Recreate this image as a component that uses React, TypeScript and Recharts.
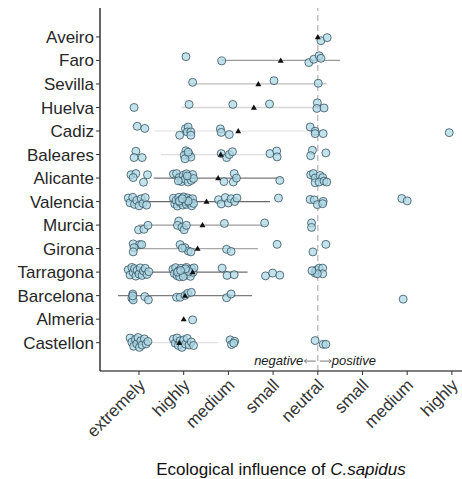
import { Label, ReferenceLine, Scatter, ScatterChart, XAxis, YAxis } from 'recharts';

const regions = [
	'Aveiro', 'Faro', 'Sevilla', 'Huelva', 'Cadiz', 'Baleares', 'Alicante',
	'Valencia', 'Murcia', 'Girona', 'Tarragona', 'Barcelona', 'Almeria', 'Castellon',
];
const influenceLabels = ['extremely', 'highly', 'medium', 'small', 'neutral', 'small', 'medium', 'highly'];
const influenceTicks = [1, 2, 3, 4, 5, 6, 7, 8];

// mean score and sd per region (the triangles and the horizontal bars)
const meanScore = [5.0, 4.17, 3.67, 3.57, 3.22, 2.83, 2.77, 2.51, 2.42, 2.31, 2.2, 2.03, 2.0, 1.9];
const sdScore = [0, 1.33, 1.53, 1.62, 1.88, 1.34, 1.44, 1.42, 1.43, 1.35, 1.23, 1.5, 0, 0.87];
const barShade = [
	'#bbbbbb', '#9a9a9a', '#bdbdbd', '#d6d6d6', '#ebebeb', '#dedede', '#7a7a7a',
	'#6a6a6a', '#9c9c9c', '#a8a8a8', '#6e6e6e', '#7e7e7e', '#cccccc', '#e3e3e3',
];

// jittered answers: [score + jitter, vertical jitter]
const aveiro = [[5.07, -0.16], [5.21, -0.03]];
const faro = [[2.05, 0.16], [2.85, -0.02], [4.8, -0.09], [4.91, 0.05], [5.03, 0.2], [5.07, 0.09]];
const sevilla = [[2.2, 0.07], [4.02, 0.14], [5.01, 0.03]];
const huelva = [[0.89, 0], [2.12, 0.13], [3.1, 0.13], [3.92, 0.15], [4.99, 0.2], [4.98, -0.04], [5.14, -0.02]];
const cadiz = [
	[0.96, 0.2], [1.13, 0.11],
	[1.91, -0.18], [2.04, 0.1], [2.1, 0.17], [2.08, -0.04], [2.16, -0.04], [2.16, -0.18],
	[2.82, 0.09], [2.84, -0.06], [3.02, -0.15],
	[4.83, 0.17], [4.94, -0.01], [4.94, -0.11], [5.12, -0.11],
	[7.94, -0.07],
];
const baleares = [
	[0.93, 0.14], [0.89, -0.13], [1.07, -0.13],
	[2.05, 0.16], [2.01, -0.03], [2.12, 0.01], [2.16, -0.11], [2.03, -0.18], [2.1, 0.1],
	[2.84, 0.04], [2.96, -0.13], [3.02, 0], [3.09, 0.12],
	[3.93, 0.04], [4.08, 0.15], [4.09, -0.1],
	[4.88, 0.18], [4.84, -0.05], [5.18, 0.07],
];
const alicante = [
	[0.82, 0.14], [0.93, 0.19], [0.87, 0.02], [1.19, 0.14], [1.1, -0.18],
	[1.77, 0.17], [1.84, 0.19], [1.9, 0.02], [1.95, -0.15], [1.99, 0.12], [2.03, -0.05], [2.06, 0.18],
	[2.1, -0.17], [2.13, 0.06], [2.17, -0.1], [2.2, 0.15], [2.22, -0.02], [1.88, -0.12], [2.08, 0.09],
	[2.9, -0.15], [3.13, 0.19], [3.11, -0.17], [3.18, 0],
	[4.15, -0.1],
	[4.84, 0.14], [4.9, 0.19], [4.94, 0], [5.05, 0.11], [5.11, 0.02], [4.94, -0.2], [5.03, -0.17], [5.14, -0.13], [5.2, -0.17],
];
const valencia = [
	[0.76, 0.15], [0.8, -0.05], [0.86, 0.18], [0.9, -0.12], [0.95, 0.05], [1.0, -0.18], [1.05, 0.12], [1.09, -0.08], [1.14, 0.17], [1.17, -0.15],
	[1.77, 0.14], [1.8, -0.1], [1.83, 0.05], [1.86, -0.19], [1.89, 0.18], [1.92, -0.04], [1.95, 0.1], [1.98, -0.15], [2.0, 0.2], [2.03, 0],
	[2.06, -0.12], [2.09, 0.15], [2.12, -0.05], [2.15, 0.08], [2.18, -0.18], [2.2, 0.12], [2.22, -0.08], [1.9, 0.02], [2.1, 0.02], [1.97, 0.12],
	[2.78, 0.08], [2.84, -0.1], [2.93, 0.17], [3.0, -0.06], [3.06, 0.12], [3.14, 0], [3.19, 0.15],
	[4.12, 0.15],
	[4.83, 0.09], [4.92, 0.07], [4.99, -0.13], [5.12, 0.01], [5.11, -0.09],
	[6.88, 0.13], [7.0, 0.03],
];
const murcia = [
	[0.99, -0.2], [1.11, -0.18], [1.2, -0.01],
	[1.89, 0.17], [1.86, -0.01], [1.96, -0.09], [2.01, -0.2], [2.06, -0.01],
	[2.91, 0.07],
	[3.81, 0.09],
	[4.86, 0.09], [4.86, -0.1],
];
const girona = [
	[0.87, 0.2], [1.01, 0.17], [1.06, 0.17], [0.89, 0.04], [0.87, -0.14],
	[1.92, 0.17], [2.03, 0.04], [2.1, -0.1], [2.16, -0.14], [1.97, 0.02],
	[2.96, -0.03], [3.06, -0.12],
	[4.09, 0.18],
	[4.89, -0.14], [5.18, 0.18],
];
const tarragona = [
	[0.76, 0.1], [0.8, -0.12], [0.84, 0.2], [0.87, -0.02], [0.9, 0.15], [0.93, -0.17], [0.96, 0.08],
	[1.0, -0.08], [1.03, 0.18], [1.07, -0.14], [1.1, 0.05], [1.14, 0.16], [1.18, -0.1], [1.22, 0.02],
	[1.76, 0.12], [1.79, -0.06], [1.82, 0.19], [1.85, -0.15], [1.88, 0.05], [1.91, -0.2], [1.94, 0.16], [1.97, -0.03],
	[2.0, 0.1], [2.03, -0.13], [2.06, 0.2], [2.09, -0.07], [2.12, 0.08], [2.15, -0.18], [2.18, 0.14], [2.21, -0.01],
	[2.23, 0.18], [1.86, 0], [1.99, -0.19], [2.11, 0.03], [2.04, 0.14], [1.93, 0.07],
	[2.86, 0.17], [2.97, -0.14], [3.13, -0.11],
	[3.83, -0.16], [3.99, -0.04], [4.15, -0.13],
	[4.94, -0.04], [4.96, 0.08], [5.03, 0.17], [5.11, 0.17], [5.11, -0.07], [4.99, -0.07], [4.87, 0.06],
];
const barcelona = [
	[0.86, 0.07], [0.84, -0.11], [0.87, -0.18], [1.13, -0.04], [1.21, -0.18], [0.86, -0.01],
	[1.84, -0.07], [1.92, -0.07], [2.03, 0.01], [2.09, 0.1], [2.17, 0.14],
	[2.96, -0.09], [3.06, 0.07],
	[6.91, -0.15],
];
const almeria = [[2.2, -0.03]];
const castellon = [
	[0.8, 0.2], [0.84, 0.02], [0.88, -0.15], [0.92, 0.14], [0.95, -0.05], [0.98, 0.22],
	[1.01, -0.2], [1.04, 0.08], [1.07, -0.1], [1.12, 0.16], [1.16, -0.05], [1.2, 0.05],
	[1.77, 0.15], [1.81, -0.02], [1.85, 0.2], [1.88, -0.12], [1.92, 0.08], [1.96, -0.2],
	[2.0, 0.12], [2.04, -0.06], [2.08, 0.18], [2.12, -0.1], [2.17, 0.03], [2.22, -0.12],
	[3.04, 0.12], [3.14, 0.06], [3.07, -0.08], [3.12, -0.02],
	[4.94, 0.09], [5.12, -0.07], [5.18, -0.07],
];

const pointsByRegion = [
	aveiro, faro, sevilla, huelva, cadiz, baleares, alicante,
	valencia, murcia, girona, tarragona, barcelona, almeria, castellon,
];

const FONT = '"Liberation Sans", Arial, Helvetica, sans-serif';

const rowOf = (i: number) => regions.length - i;
const regionTicks = regions.map((_, i) => rowOf(i));

const pointData = pointsByRegion.flatMap((pts, i) =>
	pts.map(([x, dy]) => ({ x, y: rowOf(i) + dy }))
);
const meanData = meanScore.map((m, i) => ({ x: m, y: rowOf(i) }));
const noteData = [{ x: 5, y: 0.26 }];

const Dot = (p: any) => (
	<circle
		cx={p.cx}
		cy={p.cy}
		r={4}
		fill='#add8e6'
		fillOpacity={0.75}
		stroke='#2f4b5a'
		strokeOpacity={0.85}
		strokeWidth={0.9}
	/>
);

const Tri = (p: any) => (
	<polygon
		points={`${p.cx},${p.cy - 3} ${p.cx - 3},${p.cy + 2.2} ${p.cx + 3},${p.cy + 2.2}`}
		fill='#111'
	/>
);

const Nothing = () => <g />;

const Note = (p: any) => {
	const { cx, cy } = p;
	return (
		<g fontFamily={FONT} fontSize={13} fontStyle='italic' fill='#1a1a1a'>
			<text x={cx - 14.5} y={cy} textAnchor='end' dominantBaseline='central'>negative</text>
			<text x={cx + 14} y={cy} textAnchor='start' dominantBaseline='central'>positive</text>
			<g stroke='#555' strokeWidth={0.8} fill='none'>
				<path d={`M${cx - 2},${cy + 1} H${cx - 13} M${cx - 11},${cy - 1} L${cx - 13.5},${cy + 1} L${cx - 11},${cy + 3}`} />
				<path d={`M${cx + 2},${cy + 1} H${cx + 13} M${cx + 11},${cy - 1} L${cx + 13.5},${cy + 1} L${cx + 11},${cy + 3}`} />
			</g>
		</g>
	);
};

const XTick = ({ x, y, payload }: any) => {
	const ax = x - 1;
	const ay = y + 1;
	return (
		<text
			x={ax}
			y={ay}
			transform={`rotate(-45, ${ax}, ${ay})`}
			textAnchor='end'
			dy='0.68em'
			fontSize={17}
			fill='#333'
			fontFamily={FONT}
		>
			{influenceLabels[payload.value - 1]}
		</text>
	);
};

const AxisTitle = (props: any) => {
	const vb = props.viewBox;
	return (
		<text
			x={vb.x + vb.width / 2}
			y={vb.y + vb.height - 4}
			textAnchor='middle'
			fontSize={17}
			fill='#111'
			fontFamily={FONT}
		>
			Ecological influence of <tspan fontStyle='italic'>C.sapidus</tspan>
		</text>
	);
};

export default function App() {
	return (
		<div style={{ position: 'absolute', left: 0, top: 0, background: '#fff' }}>
			<ScatterChart width={462} height={479} margin={{ top: 8, right: 0, bottom: 0, left: 0 }}>
				<XAxis
					type='number'
					dataKey='x'
					domain={[0.1275, 8.226]}
					ticks={influenceTicks}
					allowDataOverflow
					height={108}
					interval={0}
					tick={<XTick />}
					tickSize={4}
					tickLine={{ stroke: '#333' }}
					axisLine={{ stroke: '#000', strokeWidth: 1.2 }}
				>
					<Label content={AxisTitle} />
				</XAxis>
				<YAxis
					type='number'
					dataKey='y'
					domain={[-0.204, 15.23]}
					ticks={regionTicks}
					allowDataOverflow
					width={100}
					interval={0}
					tickSize={4}
					tickMargin={2}
					tickFormatter={(v: number) => regions[regions.length - v]}
					tick={{ fontSize: 17, fill: '#262626', fontFamily: FONT }}
					tickLine={{ stroke: '#333' }}
					axisLine={{ stroke: '#000', strokeWidth: 1.2 }}
				/>
				<ReferenceLine x={5} stroke='#b3b3b3' strokeWidth={1.2} strokeDasharray='6 4' />
				{meanScore.map((m, i) =>
					sdScore[i] > 0 ? (
						<Scatter
							key={regions[i]}
							data={[
								{ x: m - sdScore[i], y: rowOf(i) },
								{ x: m + sdScore[i], y: rowOf(i) },
							]}
							line={{ stroke: barShade[i], strokeWidth: 1.3 }}
							shape={Nothing}
							isAnimationActive={false}
						/>
					) : null
				)}
				<Scatter data={pointData} shape={Dot} isAnimationActive={false} />
				<Scatter data={meanData} shape={Tri} isAnimationActive={false} />
				<Scatter data={noteData} shape={Note} isAnimationActive={false} />
			</ScatterChart>
		</div>
	);
}
